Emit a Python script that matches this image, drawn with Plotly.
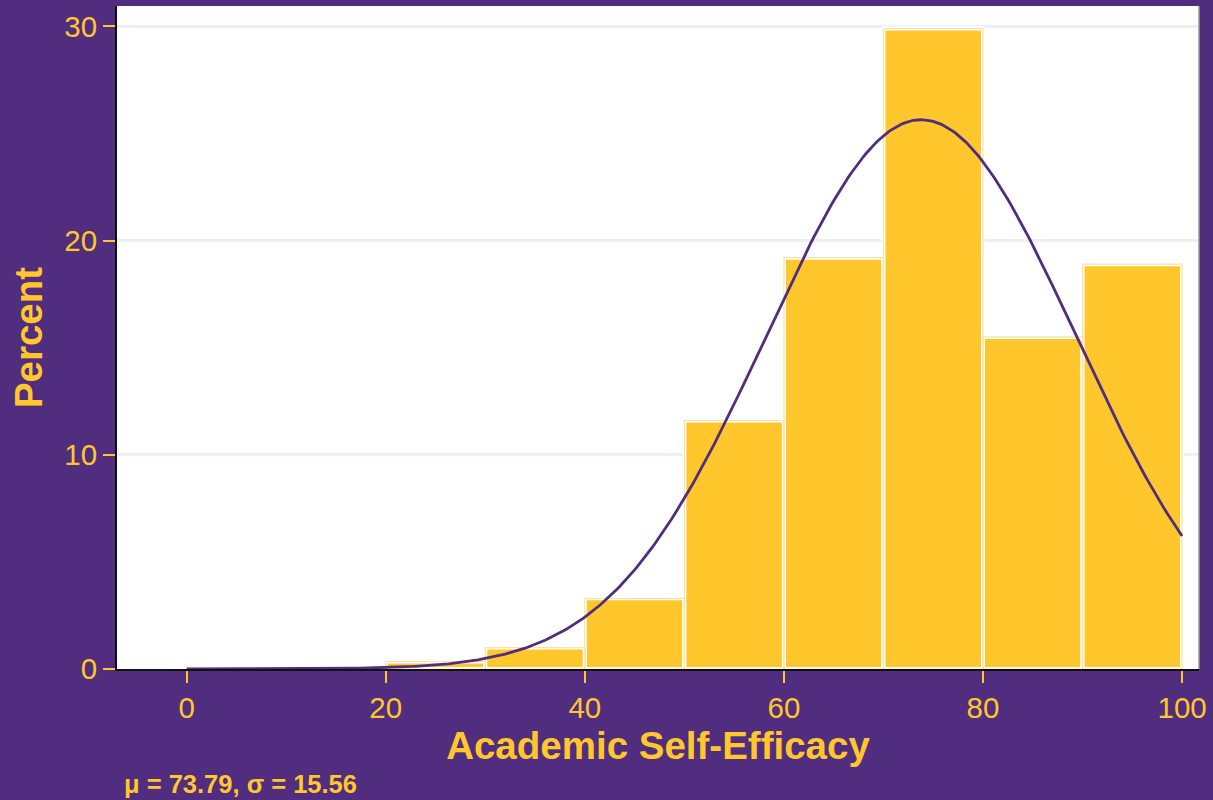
import numpy as np
import plotly.graph_objects as go

# Histogram of Academic Self-Efficacy scores (percent of respondents per 10-point bin)
bin_left = [20, 30, 40, 50, 60, 70, 80, 90]
bin_width = 10
percent = [0.35, 1.0, 3.3, 11.6, 19.2, 29.9, 15.5, 18.9]

# Sample moments used for the overlaid normal density
MU = 73.79
SIGMA = 15.56

x_ticks = [0, 20, 40, 60, 80, 100]
y_ticks = [0, 10, 20, 30]

PURPLE = "#512D7F"
GOLD = "#FFC72C"
PALE_GOLD = "#FBE3A4"
GRID = "#E9F1F2"
FONT = "Liberation Sans, Arial, sans-serif"

centers = [b + bin_width / 2 for b in bin_left]

# Normal curve scaled to percent-per-bin
xs = np.linspace(0, 100, 401)
ys = 100 * bin_width / (SIGMA * np.sqrt(2 * np.pi)) * np.exp(-0.5 * ((xs - MU) / SIGMA) ** 2)

fig = go.Figure()

# Gold bars with a white inner border
fig.add_trace(go.Bar(
    x=centers, y=percent, width=[bin_width] * len(centers),
    marker=dict(color=GOLD, line=dict(color="white", width=4)),
    hoverinfo="skip", showlegend=False,
))
# Thin pale-gold outline at each bar's true extent
fig.add_trace(go.Bar(
    x=centers, y=percent, width=[bin_width] * len(centers),
    marker=dict(color="rgba(0,0,0,0)", line=dict(color=PALE_GOLD, width=1.2)),
    hoverinfo="skip", showlegend=False,
))
fig.add_trace(go.Scatter(
    x=xs, y=ys, mode="lines",
    line=dict(color=PURPLE, width=2.8),
    hoverinfo="skip", showlegend=False,
))

fig.update_layout(
    width=1213, height=800,
    barmode="overlay",
    paper_bgcolor=PURPLE,
    plot_bgcolor="white",
    margin=dict(l=117, r=9, t=6, b=131),
    font=dict(family=FONT, color=GOLD),
    shapes=[dict(type="line", xref="paper", yref="paper", x0=1, x1=1, y0=0, y1=1,
                 line=dict(color="#9A9A9A", width=1.5))],
    annotations=[dict(
        text="<b>μ = 73.79, σ = 15.56</b>", xref="paper", yref="paper",
        x=(122 - 117) / (1204 - 117), y=-(784 - 669) / (669 - 6),
        xanchor="left", yanchor="middle", showarrow=False,
        font=dict(family=FONT, size=25.5, color=GOLD),
    )],
)

fig.update_xaxes(
    range=[-7.0, 101.7],
    tickvals=x_ticks, ticktext=[str(v) for v in x_ticks],
    ticks="outside", ticklen=12, tickwidth=2, tickcolor=GOLD,
    tickfont=dict(family=FONT, size=29.5, color=GOLD),
    showgrid=False, zeroline=False,
    showline=True, linecolor="#111111", linewidth=2,
    title=dict(text="<b>Academic Self-Efficacy</b>",
               font=dict(family=FONT, size=38.5, color=GOLD), standoff=0),
)
fig.update_yaxes(
    range=[0, 30.95],
    tickvals=y_ticks, ticktext=[str(v) for v in y_ticks],
    ticks="outside", ticklen=12, tickwidth=2, tickcolor=GOLD,
    tickfont=dict(family=FONT, size=29.5, color=GOLD),
    showgrid=True, gridcolor=GRID, gridwidth=2.5,
    zeroline=False,
    showline=True, linecolor="#111111", linewidth=2,
    title=dict(text="<b>Percent</b>",
               font=dict(family=FONT, size=38.5, color=GOLD), standoff=10),
)

fig.write_html("out.html")
